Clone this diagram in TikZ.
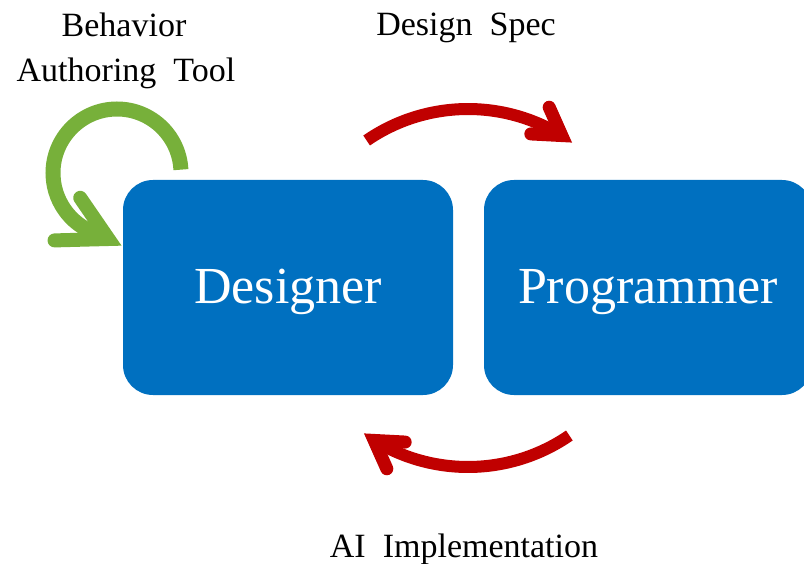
\documentclass[tikz,border=0pt]{standalone}
\usepackage{fontspec}
\setmainfont{Liberation Serif}
\usetikzlibrary{calc}
\definecolor{boxblue}{HTML}{0070C0}
\definecolor{flowred}{HTML}{C00000}
\definecolor{loopgreen}{HTML}{77B03A}

\begin{document}
\begin{tikzpicture}[x=1pt,y=-1pt,
  role/.style={fill=boxblue, draw=none, rounded corners=30pt,
    minimum height=215pt, inner sep=0pt, text=white,
    font=\fontsize{52}{60}\selectfont, text height=40pt, text depth=8pt},
  caption/.style={anchor=base, inner sep=0pt, align=center,
    font=\fontsize{34}{46}\selectfont},
  redshaft/.style={draw=flowred, line width=12pt, line cap=butt},
  redhead/.style={draw=flowred, line width=13pt, line cap=round,
    line join=miter, miter limit=10},
  greenshaft/.style={draw=loopgreen, line width=15pt, line cap=butt},
  greenhead/.style={draw=loopgreen, line width=14pt, line cap=round,
    line join=miter, miter limit=10}]

\useasboundingbox (0,0) rectangle (804,564);
\clip (0,0) rectangle (804,564);

% the two roles
\node[role, minimum width=330pt] (designer) at (288,287.5) {Designer};
\node[role, minimum width=328pt] (programmer) at (648,287.5) {Programmer};

% labels
\node[caption] (spec) at (466,36) {Design~~Spec};
\node[caption] (impl) at (464,557) {AI~~Implementation};
\node[caption] (tool1) at (124,37) {Behavior};
\node[caption] (tool2) at (126,82) {Authoring~~Tool};

% hand-over arrows: arcs of one circle between the boxes
\coordinate (hub) at (468,288);
\def\hubR{179}

% designer -> programmer
\coordinate (specTail) at ($(hub)+(-124.5:\hubR)$);
\coordinate (specV) at ($(hub)+(-58.4:\hubR)$);
\draw[redshaft] (specTail) arc[start angle=-124.5, end angle=-58.4, radius=\hubR];
\draw[redhead] ($(specV)+(183:31)$) -- (specV) -- ($(specV)+(246:31)$);

% programmer -> designer
\coordinate (implTail) at ($(hub)+(55.5:\hubR)$);
\coordinate (implV) at ($(hub)+(121.6:\hubR)$);
\draw[redshaft] (implTail) arc[start angle=55.5, end angle=121.6, radius=\hubR];
\draw[redhead] ($(implV)+(3:31)$) -- (implV) -- ($(implV)+(66:31)$);

% authoring tool loop back into the designer
\coordinate (loop) at (117,173);
\coordinate (loopTail) at ($(loop)+(-3:64)$);
\coordinate (loopV) at (108.5,239);
\draw[greenshaft] (loopTail) arc[start angle=-3, end angle=-255, radius=64] -- (loopV);
\draw[greenhead] ($(loopV)+(-124.5:50)$) -- (loopV) -- ($(loopV)+(178.5:54)$);

\end{tikzpicture}
\end{document}
